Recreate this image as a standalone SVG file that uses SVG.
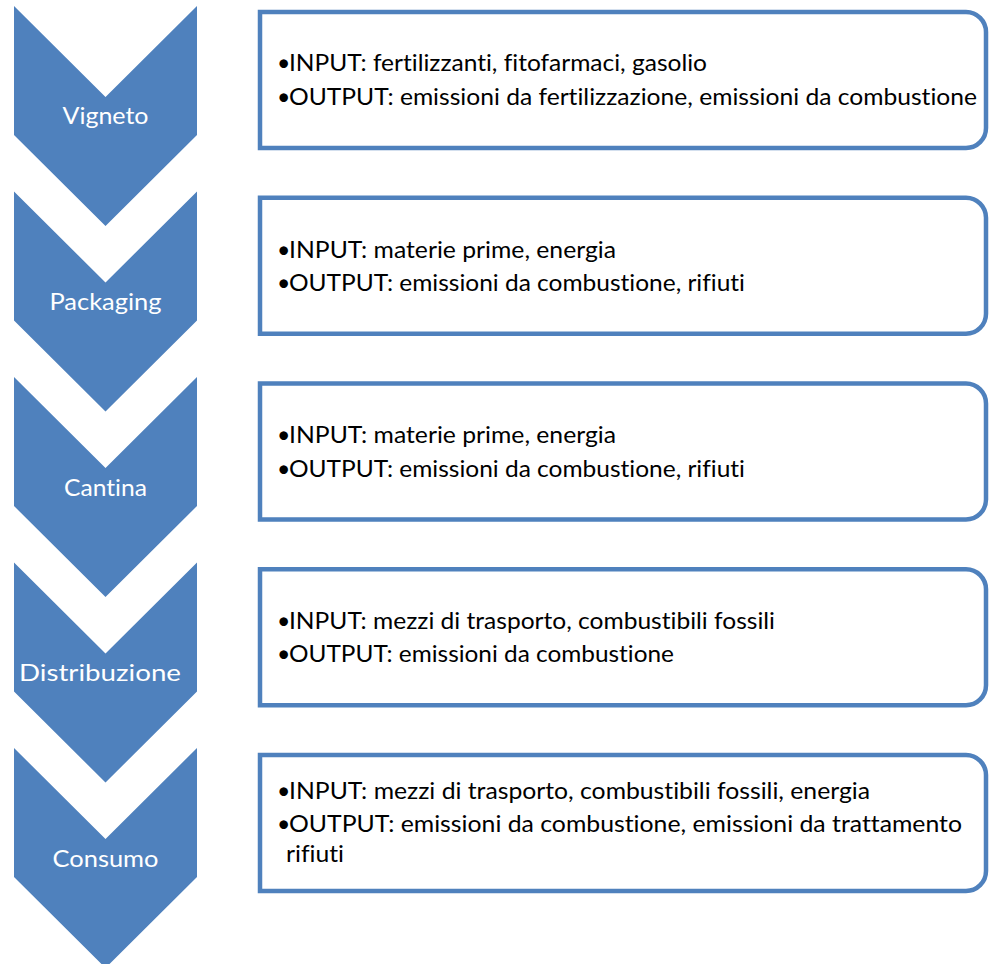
<svg xmlns="http://www.w3.org/2000/svg" width="989" height="964" viewBox="0 0 989 964">
<style>
.chev{fill:#4F81BD;}
.lbl{font-family:Lato,"Open Sans","Liberation Sans",sans-serif;font-size:24px;fill:#FFFFFF;text-anchor:middle;font-variant-ligatures:none;font-feature-settings:"liga" 0,"clig" 0;}
.box{fill:#FFFFFF;stroke:#4F81BD;stroke-width:4.5;}
.txt{font-family:Lato,"Open Sans","Liberation Sans",sans-serif;font-size:23px;fill:#000000;font-variant-ligatures:none;font-feature-settings:"liga" 0,"clig" 0;}
</style>
<defs>
<path id="chevron" d="M14,0 L105.5,91 L197,0 L197,129 L105.5,220 L14,129 Z"/>
<path id="card" d="M260,0 L966,0 A20,20 0 0 1 986,20 L986,116 A20,20 0 0 1 966,136 L260,136 Z"/>
</defs>
<rect x="0" y="0" width="989" height="964" fill="#FFFFFF"/>
<g id="connectors"></g>

<g id="node-vigneto">
<use href="#chevron" class="chev" transform="translate(0,6)"/>
<text class="lbl" x="105.5" y="124" textLength="86" lengthAdjust="spacingAndGlyphs">Vigneto</text>
</g>
<g id="box-vigneto">
<use href="#card" class="box" transform="translate(0,12)"/>
<text class="txt" y="71"><tspan x="277">•</tspan><tspan x="289" textLength="418" lengthAdjust="spacingAndGlyphs">INPUT: fertilizzanti, fitofarmaci, gasolio</tspan></text>
<text class="txt" y="104.5"><tspan x="277">•</tspan><tspan x="289" textLength="688" lengthAdjust="spacingAndGlyphs">OUTPUT: emissioni da fertilizzazione, emissioni da combustione</tspan></text>
</g>

<g id="node-packaging">
<use href="#chevron" class="chev" transform="translate(0,191.5)"/>
<text class="lbl" x="105.5" y="310" textLength="112" lengthAdjust="spacingAndGlyphs">Packaging</text>
</g>
<g id="box-packaging">
<use href="#card" class="box" transform="translate(0,197.75)"/>
<text class="txt" y="257.5"><tspan x="277">•</tspan><tspan x="289" textLength="327" lengthAdjust="spacingAndGlyphs">INPUT: materie prime, energia</tspan></text>
<text class="txt" y="291"><tspan x="277">•</tspan><tspan x="289" textLength="456" lengthAdjust="spacingAndGlyphs">OUTPUT: emissioni da combustione, rifiuti</tspan></text>
</g>

<g id="node-cantina">
<use href="#chevron" class="chev" transform="translate(0,377)"/>
<text class="lbl" x="105.5" y="495.5" textLength="83" lengthAdjust="spacingAndGlyphs">Cantina</text>
</g>
<g id="box-cantina">
<use href="#card" class="box" transform="translate(0,383.5)"/>
<text class="txt" y="443"><tspan x="277">•</tspan><tspan x="289" textLength="327" lengthAdjust="spacingAndGlyphs">INPUT: materie prime, energia</tspan></text>
<text class="txt" y="476.5"><tspan x="277">•</tspan><tspan x="289" textLength="456" lengthAdjust="spacingAndGlyphs">OUTPUT: emissioni da combustione, rifiuti</tspan></text>
</g>

<g id="node-distribuzione">
<use href="#chevron" class="chev" transform="translate(0,562.5)"/>
<text class="lbl" x="100" y="681" textLength="162" lengthAdjust="spacingAndGlyphs">Distribuzione</text>
</g>
<g id="box-distribuzione">
<use href="#card" class="box" transform="translate(0,569.25)"/>
<text class="txt" y="628.5"><tspan x="277">•</tspan><tspan x="289" textLength="486" lengthAdjust="spacingAndGlyphs">INPUT: mezzi di trasporto, combustibili fossili</tspan></text>
<text class="txt" y="662"><tspan x="277">•</tspan><tspan x="289" textLength="385" lengthAdjust="spacingAndGlyphs">OUTPUT: emissioni da combustione</tspan></text>
</g>

<g id="node-consumo">
<use href="#chevron" class="chev" transform="translate(0,748)"/>
<text class="lbl" x="105.5" y="866.5" textLength="106" lengthAdjust="spacingAndGlyphs">Consumo</text>
</g>
<g id="box-consumo">
<use href="#card" class="box" transform="translate(0,755)"/>
<text class="txt" y="799"><tspan x="277">•</tspan><tspan x="289" textLength="581" lengthAdjust="spacingAndGlyphs">INPUT: mezzi di trasporto, combustibili fossili, energia</tspan></text>
<text class="txt" y="832"><tspan x="277">•</tspan><tspan x="289" textLength="673" lengthAdjust="spacingAndGlyphs">OUTPUT: emissioni da combustione, emissioni da trattamento</tspan></text>
<text class="txt" y="862" x="286" textLength="58" lengthAdjust="spacingAndGlyphs">rifiuti</text>
</g>
</svg>
